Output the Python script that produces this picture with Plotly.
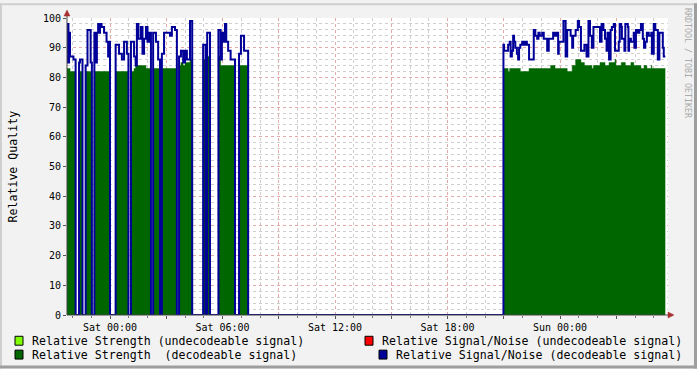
import pandas as pd
import plotly.graph_objects as go

# step breakpoints, minutes relative to Sat 00:00 (value holds until next breakpoint)
minutes = [-138, -135, -133, -131, -128, -117, -110, -99, -96, -88, -78, -72, -62, -58,
           -50, -45, -42, -38, -35, -32, -27, -19, -11, -6, -3, 0, 18, 29, 38, 45, 54, 59,
           67, 77, 82, 86, 91, 99, 104, 109, 115, 120, 125, 131, 138, 147, 154, 160, 166,
           173, 192, 198, 208, 214, 221, 227, 234, 240, 246, 256, 263, 298, 306, 311, 320,
           347, 354, 358, 363, 368, 372, 378, 386, 400, 413, 419, 429, 442,
           1259, 1261, 1274, 1279, 1282, 1286, 1290, 1293, 1297, 1302, 1306, 1309, 1313,
           1319, 1324, 1329, 1334, 1341, 1356, 1361, 1367, 1371, 1375, 1383, 1388, 1399,
           1404, 1410, 1418, 1424, 1429, 1434, 1436, 1451, 1458, 1463, 1474, 1479, 1482,
           1490, 1497, 1501, 1507, 1518, 1525, 1531, 1536, 1542, 1547, 1568, 1573, 1579,
           1584, 1589, 1592, 1597, 1602, 1606, 1612, 1616, 1619, 1628, 1631, 1636, 1638,
           1646, 1649, 1657, 1659, 1661, 1667, 1676, 1678, 1683, 1689, 1694, 1699, 1705,
           1709, 1713, 1718, 1724, 1732, 1734, 1740, 1745, 1753, 1758, 1769, 1772, 1777]
strength = [83, 83, 83, 83, 82, 82, 0, 82, 82, 0, 82, 82, 82, 0,
            82, 82, 82, 82, 82, 82, 82, 82, 82, 82, 82, 0, 82, 82, 82, 82, 82, 0,
            82, 83, 84, 84, 84, 84, 84, 84, 83, 83, 83, 0, 83, 83, 83, 0, 83,
            83, 83, 83, 83, 0, 84, 85, 84, 85, 85, 86, 0, 86, 0, 87, 0,
            87, 84, 84, 84, 84, 84, 84, 84, 0, 84, 84, 84, 0,
            83, 83, 82, 83, 83, 83, 83, 83, 83, 83, 83, 83, 82,
            82, 82, 82, 82, 83, 83, 83, 83, 83, 83, 83, 83, 83,
            83, 84, 84, 83, 83, 83, 83, 83, 83, 82, 82, 84, 84,
            86, 86, 86, 85, 84, 84, 84, 84, 83, 84, 85, 85, 85,
            84, 84, 84, 85, 85, 85, 85, 86, 84, 84, 84, 85, 85,
            85, 84, 84, 84, 84, 85, 84, 84, 84, 84, 84, 83, 83,
            84, 84, 83, 83, 84, 83, 83, 83, 83, 83, 83, 83, 83]
snr = [85, 98, 85, 95, 87, 86, 0, 85, 86, 0, 84, 96, 85, 0,
       95, 85, 95, 98, 95, 98, 97, 95, 92, 87, 92, 0, 91, 88, 86, 92, 88, 0,
       92, 87, 84, 98, 93, 97, 88, 93, 97, 92, 95, 0, 95, 92, 86, 0, 88,
       95, 94, 97, 96, 0, 87, 89, 85, 89, 86, 99, 0, 91, 0, 95, 0,
       96, 86, 95, 92, 98, 92, 89, 86, 0, 88, 94, 89, 0,
       91, 89, 91, 92, 87, 89, 94, 92, 90, 88, 86, 90, 91,
       92, 91, 92, 91, 86, 96, 94, 93, 95, 94, 95, 93, 89,
       93, 93, 95, 94, 95, 88, 92, 99, 87, 96, 94, 90, 94,
       96, 99, 97, 89, 91, 87, 99, 94, 90, 97, 92, 98, 96,
       93, 89, 95, 86, 96, 97, 98, 89, 89, 92, 98, 97, 93,
       89, 98, 97, 89, 93, 92, 95, 90, 96, 95, 96, 98, 93,
       90, 92, 95, 94, 95, 88, 98, 96, 86, 95, 90, 87, 87]

x_tick_hours = [0, 3, 6, 9, 12, 15, 18, 21, 24, 27]
x_tick_text = ["Sat 00:00", "", "Sat 06:00", "", "Sat 12:00", "", "Sat 18:00", "", "Sun 00:00", ""]

legend_labels = ["Relative Strength (undecodeable signal)",
                 "Relative Strength  (decodeable signal)",
                 "Relative Signal/Noise (undecodeable signal)",
                 "Relative Signal/Noise (decodeable signal)"]
legend_colors = ["#80FF00", "#006600", "#FF0000", "#000099"]

base = pd.Timestamp("2009-01-03 00:00")
times = base + pd.to_timedelta(minutes, unit="m")
x_start = base + pd.Timedelta(minutes=-137.6)
x_end = base + pd.Timedelta(minutes=1785.6)
tickvals = [base + pd.Timedelta(hours=h) for h in x_tick_hours]

W, H = 697, 369
L, R, T, B = 67, 29, 15, 54
PW, PH = W - L - R, H - T - B

def px(x):
    return (x - L) / PW

def py(y):
    return (H - B - y) / PH

fig = go.Figure()
fig.add_trace(go.Scatter(x=times, y=strength, mode="lines", line_shape="hv",
                         fill="tozeroy", fillcolor="#006600",
                         line=dict(color="#006600", width=0.5), hoverinfo="skip"))
fig.add_trace(go.Scatter(x=times, y=snr, mode="lines", line_shape="hv",
                         line=dict(color="#000099", width=2), hoverinfo="skip"))

mono = "DejaVu Sans Mono"
major_grid = "#E6A9A9"
minor_grid = "#CFCFCF"

fig.update_layout(
    width=W, height=H,
    margin=dict(l=L, r=R, t=T, b=B),
    paper_bgcolor="#F2F2F2", plot_bgcolor="#FFFFFF",
    showlegend=False,
    xaxis=dict(type="date", range=[x_start, x_end], tickmode="array",
               tickvals=tickvals, ticktext=x_tick_text,
               showgrid=True, gridcolor=major_grid, griddash="dot", gridwidth=1,
               ticks="outside", ticklen=3, tickcolor="#555555",
               tickfont=dict(family=mono, size=10, color="#000000"),
               showline=False, zeroline=False,
               minor=dict(tickmode="linear", tick0=base, dtick=3600000,
                          showgrid=True, gridcolor=minor_grid, griddash="dot",
                          ticks="outside", ticklen=2, tickcolor="#777777")),
    yaxis=dict(range=[0, 100], tickmode="linear", tick0=0, dtick=10,
               showgrid=True, gridcolor=major_grid, griddash="dot", gridwidth=1,
               ticks="outside", ticklen=3, tickcolor="#555555",
               tickfont=dict(family=mono, size=10, color="#000000"),
               showline=False, zeroline=False,
               minor=dict(tickmode="linear", tick0=0, dtick=2, showgrid=True,
                          gridcolor=minor_grid, griddash="dot")),
)

shapes = []
# axes lines
shapes.append(dict(type="line", xref="paper", yref="paper", x0=0, x1=px(669), y0=0, y1=0,
                   line=dict(color="#444444", width=1)))
shapes.append(dict(type="line", xref="paper", yref="paper", x0=0, x1=0, y0=0, y1=py(10),
                   line=dict(color="#444444", width=1)))
# arrows
shapes.append(dict(type="path", xref="paper", yref="paper",
                   path=f"M {px(668)},{py(312)} L {px(674)},{py(315)} L {px(668)},{py(318)} Z",
                   fillcolor="#A83030", line=dict(color="#A83030", width=0.5)))
shapes.append(dict(type="path", xref="paper", yref="paper",
                   path=f"M {px(64)},{py(13)} L {px(67)},{py(7)} L {px(70)},{py(13)} Z",
                   fillcolor="#A83030", line=dict(color="#A83030", width=0.5)))
# frame shading
shapes.append(dict(type="rect", xref="paper", yref="paper", x0=px(0), x1=px(697), y0=py(0), y1=py(2),
                   fillcolor="#CFCFCF", line=dict(width=0), layer="below"))
shapes.append(dict(type="rect", xref="paper", yref="paper", x0=px(0), x1=px(2), y0=py(0), y1=py(369),
                   fillcolor="#CFCFCF", line=dict(width=0), layer="below"))
shapes.append(dict(type="rect", xref="paper", yref="paper", x0=px(0), x1=px(697), y0=py(366), y1=py(369),
                   fillcolor="#9E9E9E", line=dict(width=0), layer="below"))
shapes.append(dict(type="rect", xref="paper", yref="paper", x0=px(694), x1=px(697), y0=py(0), y1=py(369),
                   fillcolor="#9E9E9E", line=dict(width=0), layer="below"))

annotations = []
# legend
leg_pos = [(15, 341, 30), (15, 355, 30), (365, 341, 380), (379, 355, 394)]
for (sx, sy, tx), lab, col in zip(leg_pos, legend_labels, legend_colors):
    shapes.append(dict(type="rect", xref="paper", yref="paper",
                       x0=px(sx), x1=px(sx + 8), y0=py(sy - 4.5), y1=py(sy + 4.5),
                       fillcolor=col, line=dict(color="#000000", width=1)))
    annotations.append(dict(xref="paper", yref="paper", x=px(tx), y=py(sy), text=lab,
                            showarrow=False, xanchor="left", yanchor="middle",
                            font=dict(family=mono, size=11.6, color="#000000")))
annotations.append(dict(xref="paper", yref="paper", x=px(12), y=py(165), text="Relative Quality",
                        showarrow=False, textangle=-90, xanchor="center", yanchor="middle",
                        font=dict(family=mono, size=11.6, color="#000000")))
annotations.append(dict(xref="paper", yref="paper", x=px(688), y=py(3), text="RRDTOOL / TOBI OETIKER",
                        showarrow=False, textangle=90, xanchor="center", yanchor="top",
                        font=dict(family=mono, size=8.3, color="#AAAAAA")))

fig.update_layout(shapes=shapes, annotations=annotations)
fig.write_html("out.html")
